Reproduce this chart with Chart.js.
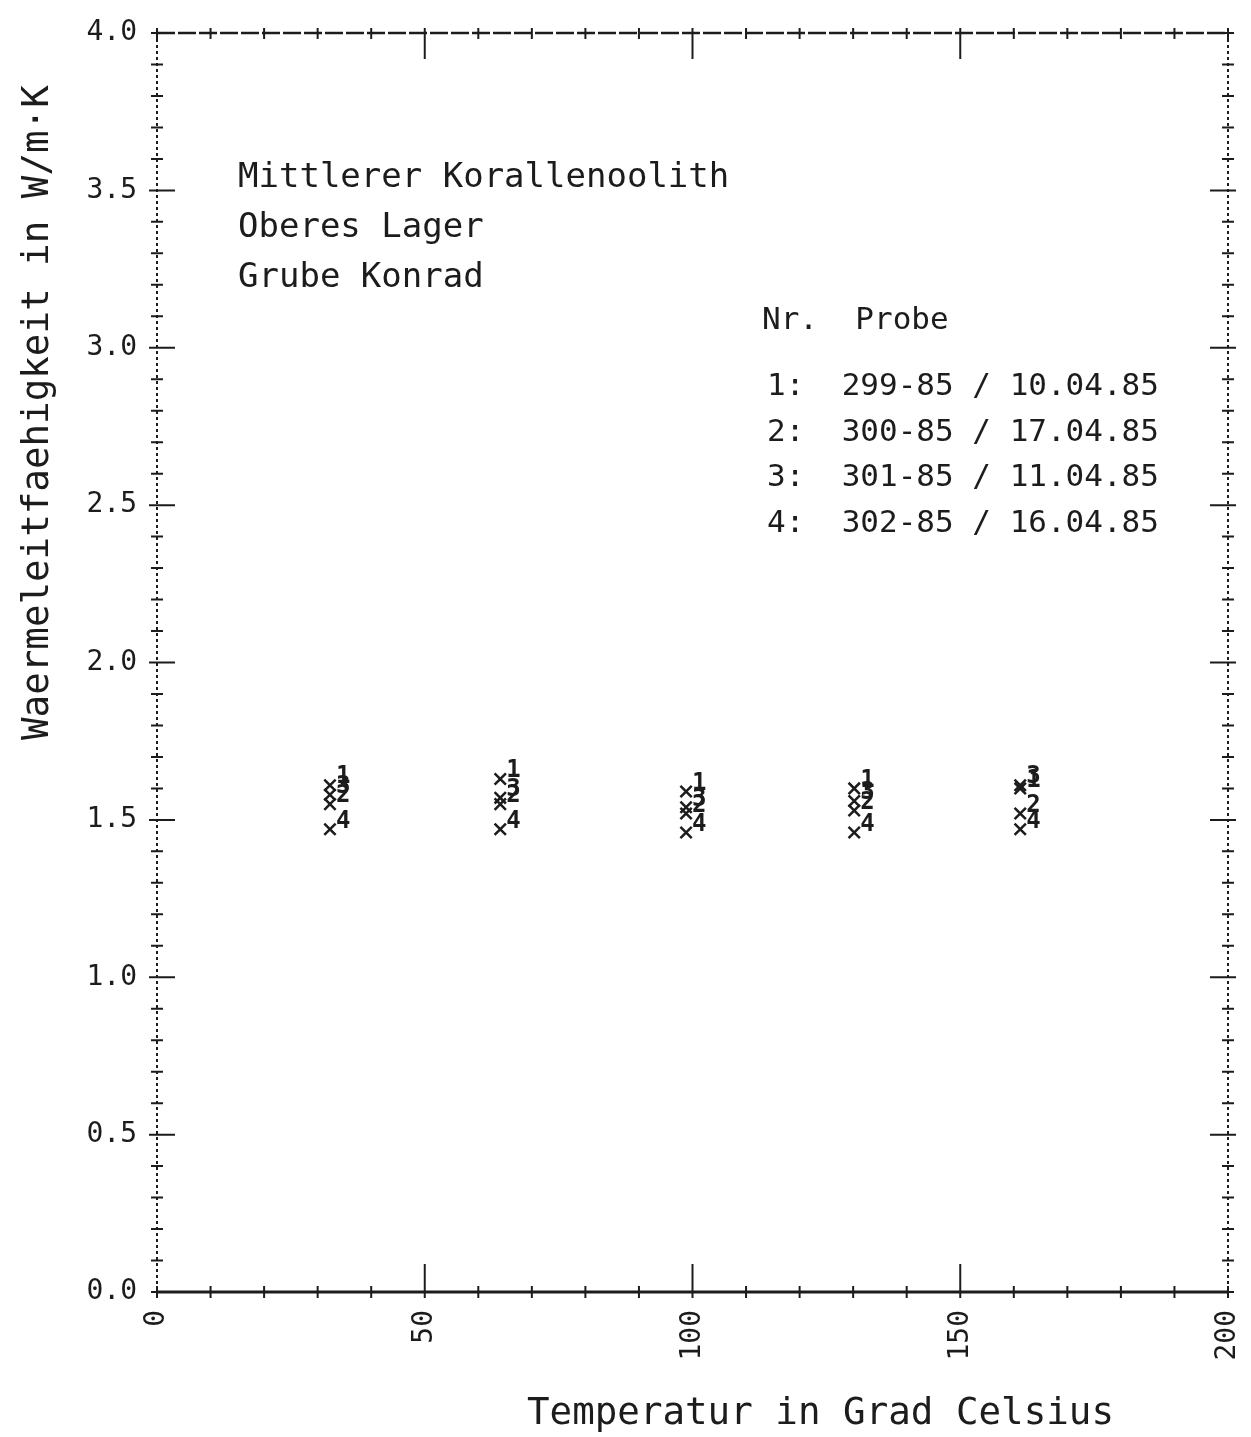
<!DOCTYPE html>
<html>
<head>
<meta charset="utf-8">
<script src="https://cdn.jsdelivr.net/npm/chart.js@4.4.1/dist/chart.umd.min.js"></script>
<style>
  html, body { margin: 0; padding: 0; background: #fff; }
</style>
</head>
<body>
<canvas id="conductivityChart" width="1251" height="1437"></canvas>
<script>
// measured temperatures (Grad Celsius) and conductivities (W/m K) per sample
const temperatures = [32.3, 64.1, 98.8, 130.2, 161.2];
const probe1 = [1.61, 1.63, 1.59, 1.60, 1.60];
const probe2 = [1.55, 1.55, 1.52, 1.53, 1.52];
const probe3 = [1.58, 1.57, 1.54, 1.56, 1.61];
const probe4 = [1.47, 1.47, 1.46, 1.46, 1.47];

const sampleNumbers = ['1', '2', '3', '4'];
const sampleNames = ['299-85 / 10.04.85', '300-85 / 17.04.85', '301-85 / 11.04.85', '302-85 / 16.04.85'];

const xTickValues = [0, 50, 100, 150, 200];
const yTickValues = [0.0, 0.5, 1.0, 1.5, 2.0, 2.5, 3.0, 3.5, 4.0];

const noteLines = ['Mittlerer Korallenoolith', 'Oberes Lager', 'Grube Konrad'];
const xTitle = 'Temperatur in Grad Celsius';
const yTitle = 'Waermeleitfaehigkeit in W/m\u00b7K';

const INK = '#1c1c1c';
const MONO = '"DejaVu Sans Mono", "Liberation Mono", monospace';

function toPoints(values) {
  return values.map((v, i) => ({ x: temperatures[i], y: v }));
}

// box with plotter-style ticks on all four sides
const framePlugin = {
  id: 'frame',
  afterDraw(chart) {
    const ctx = chart.ctx;
    const { left, right, top, bottom } = chart.chartArea;
    const xs = chart.scales.x, ys = chart.scales.y;
    ctx.save();
    ctx.strokeStyle = INK;

    ctx.lineWidth = 3;
    ctx.beginPath();
    ctx.moveTo(left, bottom); ctx.lineTo(right, bottom);
    ctx.stroke();

    ctx.lineWidth = 2.5;
    ctx.setLineDash([18, 3]);
    ctx.beginPath();
    ctx.moveTo(left, top); ctx.lineTo(right, top);
    ctx.stroke();

    ctx.lineWidth = 2;
    ctx.setLineDash([3, 3]);
    ctx.beginPath();
    ctx.moveTo(left, top); ctx.lineTo(left, bottom);
    ctx.moveTo(right, top); ctx.lineTo(right, bottom);
    ctx.stroke();
    ctx.setLineDash([]);

    ctx.lineWidth = 2;
    ctx.beginPath();
    for (let v = 0; v <= 200; v += 10) {
      const px = xs.getPixelForValue(v);
      const major = xTickValues.includes(v) && v > 0 && v < 200;
      ctx.moveTo(px, bottom + 6); ctx.lineTo(px, major ? bottom - 28 : bottom - 6);
      ctx.moveTo(px, top - 5); ctx.lineTo(px, major ? top + 26 : top + 6);
    }
    for (let k = 0; k <= 40; k++) {
      const v = k / 10;
      const py = ys.getPixelForValue(v);
      const major = k % 5 === 0 && k > 0 && k < 40;
      ctx.moveTo(major ? left - 8 : left - 6, py); ctx.lineTo(major ? left + 18 : left + 6, py);
      ctx.moveTo(major ? right - 18 : right - 6, py); ctx.lineTo(major ? right + 8 : right + 6, py);
    }
    ctx.stroke();
    ctx.restore();
  }
};

// sample number written next to every marker
const pointNumbersPlugin = {
  id: 'pointNumbers',
  afterDatasetsDraw(chart) {
    const ctx = chart.ctx;
    ctx.save();
    ctx.fillStyle = INK;
    ctx.font = 'bold 24px ' + MONO;
    ctx.textAlign = 'left';
    ctx.textBaseline = 'middle';
    chart.data.datasets.forEach((ds, i) => {
      chart.getDatasetMeta(i).data.forEach(pt => {
        ctx.fillText(sampleNumbers[i], pt.x + 6, pt.y - 8);
      });
    });
    ctx.restore();
  }
};

// notes, legend block and axis titles
const textPlugin = {
  id: 'texts',
  afterDraw(chart) {
    const ctx = chart.ctx;
    ctx.save();
    ctx.fillStyle = INK;
    ctx.textBaseline = 'alphabetic';
    ctx.textAlign = 'left';

    ctx.font = '34px ' + MONO;
    noteLines.forEach((line, i) => ctx.fillText(line, 238, 187 + i * 50));

    ctx.font = '31px ' + MONO;
    ctx.fillText('Nr.  Probe', 762, 329);
    sampleNames.forEach((name, i) => {
      ctx.fillText(sampleNumbers[i] + ':  ' + name, 767, 395 + i * 45.5);
    });

    ctx.font = '37.5px ' + MONO;
    ctx.fillText(xTitle, 527, 1424);

    ctx.translate(48, 740);
    ctx.rotate(-Math.PI / 2);
    ctx.fillText(yTitle, 0, 0);
    ctx.restore();
  }
};

const markerStyle = {
  showLine: false,
  pointStyle: 'crossRot',
  pointRadius: 8,
  pointBorderWidth: 2.5,
  borderColor: INK,
  backgroundColor: INK
};

new Chart(document.getElementById('conductivityChart').getContext('2d'), {
  type: 'scatter',
  data: {
    datasets: [
      { label: sampleNames[0], data: toPoints(probe1), ...markerStyle },
      { label: sampleNames[1], data: toPoints(probe2), ...markerStyle },
      { label: sampleNames[2], data: toPoints(probe3), ...markerStyle },
      { label: sampleNames[3], data: toPoints(probe4), ...markerStyle }
    ]
  },
  options: {
    responsive: false,
    animation: false,
    layout: { padding: { top: 33, right: 23, left: 0, bottom: 0 } },
    plugins: {
      legend: { display: false },
      tooltip: { enabled: false }
    },
    scales: {
      x: {
        type: 'linear',
        min: 0,
        max: 200,
        afterBuildTicks: s => { s.ticks = xTickValues.map(v => ({ value: v })); },
        afterFit: s => { s.height = 145; s.paddingLeft = 0; s.paddingRight = 0; },
        grid: { display: false, drawTicks: false },
        border: { display: false },
        ticks: {
          minRotation: 90,
          maxRotation: 90,
          padding: 18,
          color: INK,
          font: { family: MONO, size: 28 }
        }
      },
      y: {
        type: 'linear',
        min: 0,
        max: 4,
        afterBuildTicks: s => { s.ticks = yTickValues.map(v => ({ value: v })); },
        afterFit: s => { s.width = 157; s.paddingTop = 0; s.paddingBottom = 0; },
        grid: { display: false, drawTicks: false },
        border: { display: false },
        ticks: {
          padding: 20,
          color: INK,
          font: { family: MONO, size: 28 },
          callback: v => v.toFixed(1)
        }
      }
    }
  },
  plugins: [framePlugin, pointNumbersPlugin, textPlugin]
});
</script>
</body>
</html>
